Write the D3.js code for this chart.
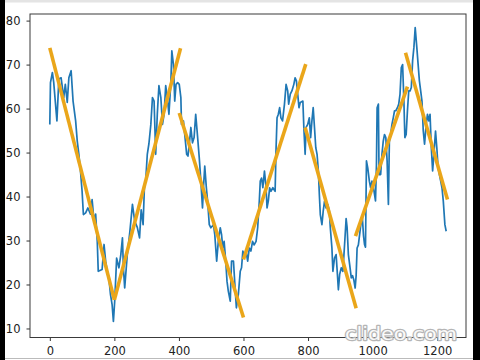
<!DOCTYPE html>
<html>
<head>
<meta charset="utf-8">
<script src="https://d3js.org/d3.v7.min.js"></script>
<style>
  body { margin: 0; background: #fff; }
  svg { display: block; }
  .tick text { font-family: "DejaVu Sans", sans-serif; font-size: 11.5px; fill: #222; }
</style>
</head>
<body>
<div id="chart"></div>
<script>
// blue series (sample index / value)
const sampleIdx = [0,2,8,12,22,28,35,43,48,54,59,66,72,80,85,90,95,100,104,111,118,126,131,137,142,147,150,162,168,173,178,183,188,193,197,201,207,214,220,225,228,232,240,248,256,263,271,278,283,289,293,297,
  302,307,313,318,323,328,333,338,344,349,354,359,364,369,375,378,383,387,391,396,401,406,408,414,418,424,428,433,437,442,447,452,458,463,468,473,476,480,485,489,494,499,507,511,517,522,528,532,536,540,545,549,553,559,563,569,574,578,584,590,594,598,
  602,608,613,618,623,628,633,639,644,649,652,656,660,665,670,673,677,681,685,691,698,701,704,708,712,716,721,727,732,737,740,745,750,756,760,764,768,772,776,784,787,791,794,799,804,808,812,816,820,824,828,832,835,838,843,847,851,856,861,866,869,874,877,882,887,891,894,898,903,908,
  914,918,921,925,929,934,938,942,946,949,952,956,961,965,968,972,975,978,981,985,990,994,998,1002,1006,1009,1012,1014,1018,1020,1025,1029,1033,1037,1041,1045,1049,1052,1056,1060,1064,1068,1072,1077,1081,1085,1089,1093,1097,1100,1104,1108,1112,1116,1120,1124,1128,1132,1137,1141,1145,1149,1153,1157,1161,1166,1170,1174,1178,1182,1186,1190,1195,1199,1203,1207,1211,1215,1219,1224,1228];
const sampleVal = [56.4,65.9,68.2,66,57.2,66.7,67,62.5,65.5,61.4,67,68.6,61.7,57.2,52.6,49.6,45.8,41.2,35.9,36.3,37.4,36,39.3,34.4,36,29.8,23,23.4,29.1,25.3,23,21.5,17.7,15.4,11.6,16.2,26,23.8,26.8,30.6,23.8,19.2,26.8,32,38.2,34.4,33,30.6,37,33.6,42,43.5,
  49.6,52,56.4,62.5,61.7,49.6,58.7,65.2,62.5,56.4,58.7,65.2,62.5,58.7,66,73.1,70,61.7,65.5,65.9,65.5,62.5,56.4,57.2,54.1,49.6,49.2,52.6,55.7,52.2,53.4,58.7,53.4,48.8,43.5,37.4,42,46.9,42,38.9,33.6,32.9,33.6,31.4,25.3,29.8,32.9,31.4,28.3,29.8,25.3,20.7,18.5,16.2,25.3,25.3,19.2,14.7,17.7,23,23.8,27.6,
  26.8,27.5,25.3,28.3,27.6,29.8,29,29.8,32.9,38.9,43.5,44.2,42,45.8,42,37.4,39,42,41.2,42,41.2,51.1,57.9,58.7,60.2,57.9,57.2,61,65.5,64,61,63.3,64,65.5,67,66.3,63.3,60.2,61.4,61.7,55.7,49.6,55.7,56.4,57.9,53.4,57.2,60.2,55.7,51.1,49.6,45.8,40.5,35.9,33.6,36.7,38.9,37.4,38.2,36.7,32.9,28.3,23,26,26.8,22.3,18.8,22.3,23.8,23,
  30,35,33,26.8,24.5,21.5,22,21,19.2,22,28.3,29,32.1,34.4,35.5,31,29.1,28.5,48.1,46.5,43.5,42,43.5,42.5,40.5,39,47.3,60.2,61,45,45,49.6,52.6,54.1,53.4,48.1,38.2,52.6,54.1,56.4,57.9,59.5,59.5,60.2,61,63.3,69.3,70,61.7,53.4,54.1,59.5,64,64,64.8,70.9,73.9,78.4,73.9,70.1,66.3,64,61.7,54.9,51.9,56.4,58.7,57.2,58.7,51.1,45.8,49.6,54.9,51.1,46.5,45,43.5,42,39,33.6,32.1];

// orange fitted segments
const fitStart    = [0, 200, 401, 600, 791, 947, 1102];
const fitEnd      = [200, 405, 600, 793, 949, 1108, 1232];
const fitStartVal = [73.8, 16.5, 59, 25.7, 55.7, 31, 72.7];
const fitEndVal   = [16.5, 73.7, 12.5, 70.1, 14.6, 65, 39.3];

const xTicks = [0, 200, 400, 600, 800, 1000, 1200];
const yTicks = [10, 20, 30, 40, 50, 60, 70, 80];

const W = 480, H = 360;
const plotL = 30, plotR = 466, plotT = 14, plotB = 337.5;

const svg = d3.select("#chart").append("svg")
  .attr("width", W)
  .attr("height", H);

svg.append("rect").attr("width", W).attr("height", H).attr("fill", "#fff");

const x = d3.scaleLinear().domain([-61.4, 1289.4]).range([plotL, plotR]);
const y = d3.scaleLinear().domain([7.95, 81.5]).range([plotB, plotT]);

// blue line
const blue = sampleIdx.map((d, i) => [d, sampleVal[i]]);
svg.append("path")
  .datum(blue)
  .attr("fill", "none")
  .attr("stroke", "#1f77b4")
  .attr("stroke-width", 1.7)
  .attr("stroke-linejoin", "round")
  .attr("d", d3.line().x(d => x(d[0])).y(d => y(d[1])));

// orange segments
svg.selectAll(".fit")
  .data(fitStart.map((s, i) => ({s: s, e: fitEnd[i], sv: fitStartVal[i], ev: fitEndVal[i]})))
  .enter().append("line")
    .attr("class", "fit")
    .attr("x1", d => x(d.s))
    .attr("y1", d => y(d.sv))
    .attr("x2", d => x(d.e))
    .attr("y2", d => y(d.ev))
    .attr("stroke", "#eaa61a")
    .attr("stroke-width", 3.6)
    .attr("stroke-linecap", "butt");

// axes
const xAxis = svg.append("g")
  .attr("transform", "translate(0," + plotB + ")")
  .call(d3.axisBottom(x).tickValues(xTicks).tickFormat(d3.format("d"))
    .tickSize(3.5).tickPadding(6).tickSizeOuter(0));
const yAxis = svg.append("g")
  .attr("transform", "translate(" + plotL + ",0)")
  .call(d3.axisLeft(y).tickValues(yTicks).tickFormat(d3.format("d"))
    .tickSize(3.5).tickPadding(6).tickSizeOuter(0));
xAxis.select(".domain").remove();
yAxis.select(".domain").remove();
svg.selectAll(".tick line").attr("stroke", "#333");

// frame
svg.append("rect")
  .attr("x", plotL).attr("y", plotT)
  .attr("width", plotR - plotL).attr("height", plotB - plotT)
  .attr("fill", "none")
  .attr("stroke", "#3a3a3a")
  .attr("stroke-width", 1);

// video borders
svg.append("rect").attr("x", 0).attr("y", 0).attr("width", 5).attr("height", H).attr("fill", "#000");
svg.append("rect").attr("x", 473).attr("y", 0).attr("width", 7).attr("height", H).attr("fill", "#000");
svg.append("rect").attr("x", 5).attr("y", 0).attr("width", 468).attr("height", 2.5).attr("fill", "#e4e4e4");
svg.append("line").attr("x1", 5).attr("x2", 473).attr("y1", 358.5).attr("y2", 358.5)
  .attr("stroke", "#bbb").attr("stroke-width", 1);

// watermark
svg.append("text")
  .attr("x", 401).attr("y", 339.5)
  .attr("text-anchor", "middle")
  .attr("textLength", 112)
  .attr("lengthAdjust", "spacingAndGlyphs")
  .style("font-family", "DejaVu Sans, sans-serif")
  .style("font-size", "18.5px")
  .style("paint-order", "stroke")
  .attr("fill", "#fafafa")
  .attr("stroke", "#b5b5b5")
  .attr("stroke-width", 2.4)
  .attr("stroke-linejoin", "round")
  .text("clideo.com");
</script>
</body>
</html>
